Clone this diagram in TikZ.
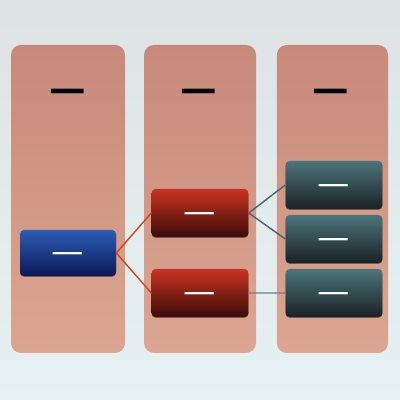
\documentclass[tikz,border=0pt]{standalone}
\usepackage{fontspec}
\setmainfont{DejaVu Sans}
\usepackage{tikz}
\usetikzlibrary{shadows, backgrounds}
\definecolor{bgtop}{HTML}{DEE3E4}
\definecolor{bgbottom}{HTML}{E6F1F4}
\definecolor{coltop}{HTML}{C8897A}
\definecolor{colbottom}{HTML}{DCA692}
\definecolor{bluetop}{HTML}{2C5CB4}
\definecolor{bluebottom}{HTML}{0A1858}
\definecolor{redtop}{HTML}{CA3422}
\definecolor{redbottom}{HTML}{3A0C08}
\definecolor{slatetop}{HTML}{4C747C}
\definecolor{slatebottom}{HTML}{1A2224}
\definecolor{orangelink}{HTML}{D0481A}
\definecolor{tealink}{HTML}{3E6A74}
\definecolor{graylink}{HTML}{6A8290}
\newcommand{\lowdash}{\raisebox{-2.5mm}[0pt][0pt]{—}}
\tikzstyle{column}   = [rectangle, rounded corners=2.5mm, minimum width=2.8cm, minimum height=7.7cm, inner sep=0pt, top color=coltop, bottom color=colbottom]
\tikzstyle{header}   = [font=\fontsize{26}{28}\selectfont\bfseries, text=black, inner sep=0pt]
\tikzstyle{item}     = [rectangle, rounded corners=1mm, minimum width=2.42cm, minimum height=1.2cm, inner sep=0pt, text=white, font=\fontsize{23}{25}\selectfont, drop shadow={shadow xshift=0pt, shadow yshift=-0.6pt, opacity=0.45, fill=black}]
\tikzstyle{rootitem} = [item, minimum width=2.4cm, minimum height=1.15cm, top color=bluetop, bottom color=bluebottom]
\tikzstyle{miditem}  = [item, top color=redtop, bottom color=redbottom]
\tikzstyle{leafitem} = [item, top color=slatetop, bottom color=slatebottom]
\tikzstyle{link}     = [line width=1pt]

\begin{document}
\begin{tikzpicture}[]
      \useasboundingbox (0,0) rectangle (10,10);
      \fill[top color=bgtop, bottom color=bgbottom] (0,0) rectangle (10,10);

      % Columns
      \node (col_one)   [column, minimum width=2.85cm] at (1.7,5.025)   {};
      \node (col_two)   [column]                       at (5.0,5.025)   {};
      \node (col_three) [column, minimum width=2.78cm] at (8.31,5.025)  {};
      %% Headers
      \node (head_one)   [header] at (1.7,7.62)  {—};
      \node (head_two)   [header] at (4.98,7.62) {—};
      \node (head_three) [header] at (8.28,7.62) {—};

      % Nodes
      \node (root)       [rootitem] at (1.7,3.675)                                   {\lowdash};
      %%% Middle column
      \node (mid_upper)  [miditem, right of=root, xshift=2.3cm, yshift=1cm]          {\lowdash};
      \node (mid_lower)  [miditem, below of=mid_upper, yshift=-1cm]                   {\lowdash};
      %%% Right column
      \node (leaf_upper) [leafitem, right of=mid_upper, xshift=2.35cm, yshift=0.7cm] {\lowdash};
      \node (leaf_mid)   [leafitem, below of=leaf_upper, yshift=-0.35cm]             {\lowdash};
      \node (leaf_lower) [leafitem, below of=leaf_mid, yshift=-0.35cm]               {\lowdash};

      % % Links
      \draw [link, orangelink] (root.east)      -- (mid_upper.west);
      \draw [link, orangelink] (root.east)      -- (mid_lower.west);
      \draw [link, tealink]    (mid_upper.east) -- (leaf_upper.west);
      \draw [link, tealink]    (mid_upper.east) -- (leaf_mid.west);
      \draw [link, graylink]   (mid_lower.east) -- (leaf_lower.west);
    \end{tikzpicture}
\end{document}
